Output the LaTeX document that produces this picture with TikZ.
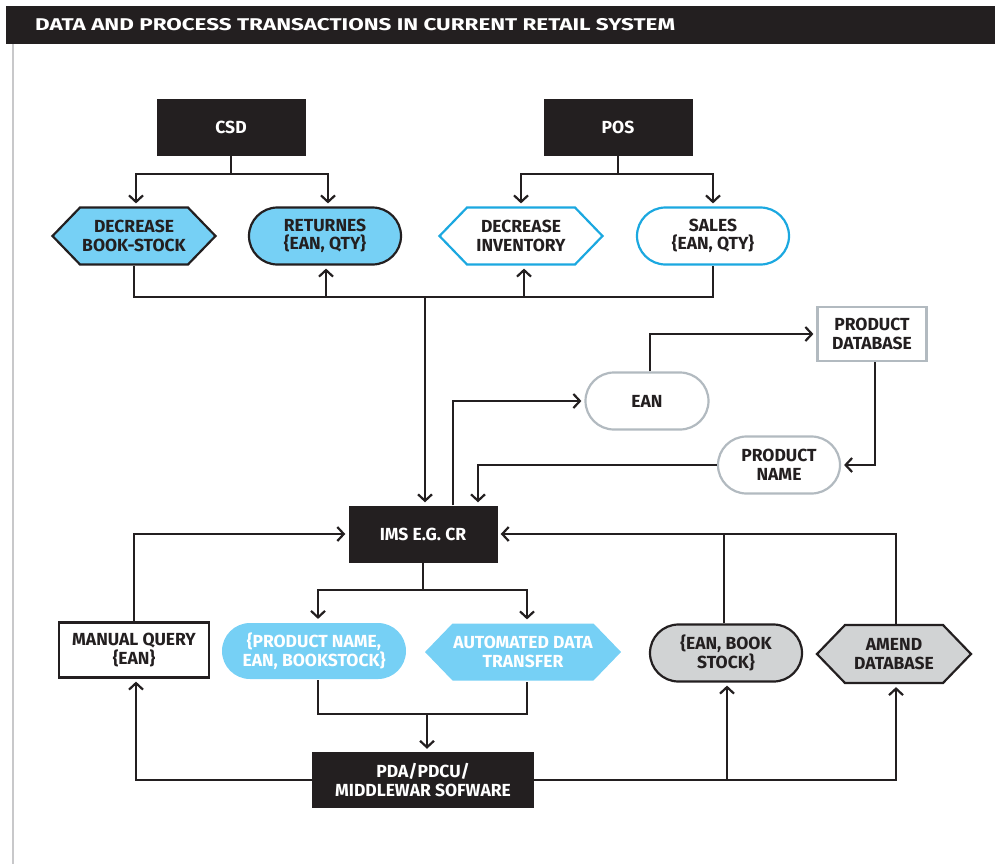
\documentclass[tikz,border=0pt]{standalone}
\usepackage{fontspec}
\setmainfont{Fira Sans}
\usetikzlibrary{arrows.meta,shapes.misc,shapes.symbols}

\definecolor{ink}{HTML}{231F20}
\definecolor{skyfill}{HTML}{76D0F5}
\definecolor{skyline}{HTML}{1BA8E0}
\definecolor{greyline}{HTML}{B2BAC0}
\definecolor{greyfill}{HTML}{D1D3D4}
\definecolor{sideline}{HTML}{C8C8CA}

\tikzset{
  x=1pt, y=-1pt,
  lbl/.style={font=\fontsize{17.5}{18.5}\selectfont\bfseries, text=ink, align=center, inner sep=0pt},
  darkbox/.style={lbl, rectangle, fill=ink, text=white, minimum width=149pt, minimum height=57pt},
  plainbox/.style={lbl, rectangle, draw=ink, line width=2.2pt, fill=white, minimum width=150pt, minimum height=55pt},
  greybox/.style={lbl, rectangle, draw=greyline, line width=2.2pt, fill=white, minimum width=109pt, minimum height=54pt},
  pill/.style={lbl, rounded rectangle, line width=2.2pt, minimum width=152pt, minimum height=57pt},
  hexa/.style={lbl, signal, signal to=west and east, signal pointer angle=92, line width=2.2pt, minimum width=163pt, minimum height=57pt},
  link/.style={draw=ink, line width=2.4pt},
  arr/.style={link, -{Straight Barb[length=6.5pt,width=14pt,line width=2.2pt]}, shorten >=3pt}
}

\begin{document}
\begin{tikzpicture}
\useasboundingbox (0,0) rectangle (995,865);

% heading bar and side rule
\fill[ink] (6,6) rectangle (995,44);
\node[anchor=west, text=white, inner sep=0pt, font=\fontsize{17}{20}\selectfont\bfseries] (title) at (35,25) {\scalebox{1.32}[1]{DATA AND PROCESS TRANSACTIONS IN CURRENT RETAIL SYSTEM}};
\draw[sideline, line width=2.5pt] (13,44) -- (13,864);

% sources
\node[darkbox] (csd) at (231,127) {CSD};
\node[darkbox] (pos) at (618,127) {POS};

% transactions
\node[hexa, fill=skyfill, draw=ink] (dbs) at (134,236) {DECREASE\\BOOK-STOCK};
\node[pill, fill=skyfill, draw=ink] (ret) at (325,236) {RETURNES\\\{EAN, QTY\}};
\node[hexa, fill=white, draw=skyline] (dinv) at (521,236) {DECREASE\\INVENTORY};
\node[pill, fill=white, draw=skyline] (sal) at (713,236) {SALES\\\{EAN, QTY\}};

% lookup
\node[greybox] (pdb) at (872,334) {PRODUCT\\DATABASE};
\node[pill, fill=white, draw=greyline, minimum width=123pt] (ean) at (647,401) {EAN};
\node[pill, fill=white, draw=greyline, minimum width=122pt] (pname) at (779,465) {PRODUCT\\NAME};

% central system
\node[darkbox] (ims) at (423,534) {IMS E.G. CR};

% lower row
\node[plainbox] (mq) at (134,650) {MANUAL QUERY\\\{EAN\}};
\node[pill, fill=skyfill, text=white, minimum width=184pt, minimum height=56pt] (pne) at (314,651) {\{PRODUCT NAME,\\EAN, BOOKSTOCK\}};
\node[hexa, fill=skyfill, text=white, minimum width=196pt, minimum height=57pt] (adt) at (523,652) {AUTOMATED DATA\\TRANSFER};
\node[pill, fill=greyfill, draw=ink] (ebs) at (726,653) {\{EAN, BOOK\\STOCK\}};
\node[hexa, fill=greyfill, draw=ink, minimum width=154pt, minimum height=58pt] (amd) at (894,654) {AMEND\\DATABASE};

\node[darkbox, minimum width=222pt, minimum height=56pt] (pda) at (423,780) {PDA/PDCU/\\MIDDLEWAR SOFWARE};

% junction points
\coordinate (bus) at (425,297);
\coordinate (merge) at (427,714);

% sources to transactions
\draw[arr] (csd.south) -- ++(0,18) -| ([xshift=2pt]dbs.north);
\draw[arr] (csd.south) -- ++(0,18) -| ([xshift=3pt]ret.north);
\draw[arr] (pos.south) -- ++(0,18) -| (dinv.north);
\draw[arr] (pos.south) -- ++(0,18) -| (sal.north);

% transactions collected on the bus
\draw[link] (dbs.south) -- (dbs.south |- bus) -- (sal.south |- bus) -- (sal.south);
\draw[arr] ([xshift=1pt]ret.south |- bus) -- ([xshift=1pt]ret.south);
\draw[arr] ([xshift=3pt]dinv.south |- bus) -- ([xshift=3pt]dinv.south);
\draw[arr] (bus) -- (bus |- ims.north);

% product lookup loop
\draw[arr] ([xshift=30pt]ims.north) |- (ean.west);
\draw[arr] ([xshift=3pt]ean.north) |- (pdb.west);
\draw[arr] ([xshift=3pt]pdb.south) |- (pname.east);
\draw[arr] (pname.west) -| ([xshift=55pt]ims.north);

% manual query into the system
\draw[arr] (mq.north) |- (ims.west);

% system outputs
\draw[arr] (ims.south) -- ++(0,27) -| ([xshift=4pt]pne.north);
\draw[arr] (ims.south) -- ++(0,27) -| ([xshift=4pt]adt.north);
\draw[link] ([xshift=4pt]pne.south) |- (merge) -| ([xshift=4pt]adt.south);
\draw[arr] (merge) -- (merge |- pda.north);

% middleware feedback
\draw[arr] (pda.west) -| ([xshift=2pt]mq.south);
\draw[arr] (pda.east) -| ([xshift=2pt]amd.south);
\draw[arr] ([xshift=1pt]ebs.south |- pda.east) -- ([xshift=1pt]ebs.south);
\draw[arr] ([xshift=2pt]amd.north) |- (ims.east);
\draw[link] ([xshift=-2pt]ebs.north) -- ([xshift=-2pt]ebs.north |- ims.east);
\end{tikzpicture}
\end{document}
